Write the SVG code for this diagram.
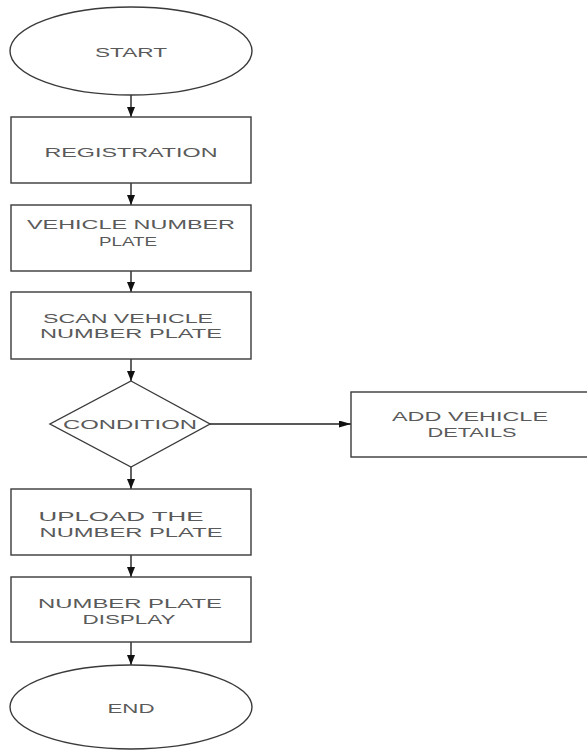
<svg xmlns="http://www.w3.org/2000/svg" width="587" height="751" viewBox="0 0 587 751">
<style>
.s{fill:#fff;stroke:#3a3a3a;stroke-width:1.4}
.t{font-family:"Liberation Sans",Arial,sans-serif;font-size:13px;fill:#5a5a5a;text-anchor:middle}
.c{stroke:#222;stroke-width:1.4;fill:none}
</style>
<defs>
<marker id="ah" viewBox="0 0 10 8" refX="10" refY="4" markerWidth="10" markerHeight="8" markerUnits="userSpaceOnUse" orient="auto">
<path d="M0,0 L10,4 L0,8 Z" fill="#111"/>
</marker>
<marker id="ah2" viewBox="0 0 12 7" refX="12" refY="3.5" markerWidth="12" markerHeight="7" markerUnits="userSpaceOnUse" orient="auto">
<path d="M0,0 L12,3.5 L0,7 Z" fill="#111"/>
</marker>
</defs>
<rect width="587" height="751" fill="#fff"/>
<g id="connectors">
<line class="c" x1="131" y1="95" x2="131" y2="117" marker-end="url(#ah)"/>
<line class="c" x1="131" y1="183" x2="131" y2="205" marker-end="url(#ah)"/>
<line class="c" x1="131" y1="271" x2="131" y2="292" marker-end="url(#ah)"/>
<line class="c" x1="131" y1="359" x2="131" y2="381" marker-end="url(#ah)"/>
<line class="c" x1="131" y1="467" x2="131" y2="489" marker-end="url(#ah)"/>
<line class="c" x1="131" y1="555" x2="131" y2="577" marker-end="url(#ah)"/>
<line class="c" x1="131" y1="642" x2="131" y2="665" marker-end="url(#ah)"/>
<line class="c" x1="210" y1="424" x2="351" y2="424" marker-end="url(#ah2)"/>
</g>
<g id="start">
<ellipse class="s" cx="131" cy="51" rx="121" ry="44"/>
<text class="t" x="131" y="57" textLength="72" lengthAdjust="spacingAndGlyphs">START</text>
</g>
<g id="registration">
<rect class="s" x="11" y="117" width="240" height="66"/>
<text class="t" x="131" y="157" textLength="173" lengthAdjust="spacingAndGlyphs">REGISTRATION</text>
</g>
<g id="vehicle">
<rect class="s" x="11" y="205" width="240" height="66"/>
<text class="t" x="131" y="229" textLength="208" lengthAdjust="spacingAndGlyphs">VEHICLE NUMBER</text>
<text class="t" x="128" y="246" textLength="58" lengthAdjust="spacingAndGlyphs">PLATE</text>
</g>
<g id="scan">
<rect class="s" x="11" y="292" width="240" height="67"/>
<text class="t" x="128" y="323" textLength="170" lengthAdjust="spacingAndGlyphs">SCAN VEHICLE</text>
<text class="t" x="131" y="338" textLength="182" lengthAdjust="spacingAndGlyphs">NUMBER PLATE</text>
</g>
<g id="condition">
<polygon class="s" points="131,381 210,424 131,467 50,424"/>
<text class="t" x="130" y="429" textLength="134" lengthAdjust="spacingAndGlyphs">CONDITION</text>
</g>
<g id="add">
<rect class="s" x="351" y="392" width="240" height="65"/>
<text class="t" x="470" y="421" textLength="156" lengthAdjust="spacingAndGlyphs">ADD VEHICLE</text>
<text class="t" x="472" y="437" textLength="89" lengthAdjust="spacingAndGlyphs">DETAILS</text>
</g>
<g id="upload">
<rect class="s" x="11" y="489" width="240" height="66"/>
<text class="t" x="121" y="521" textLength="165" lengthAdjust="spacingAndGlyphs">UPLOAD THE</text>
<text class="t" x="131" y="537" textLength="183" lengthAdjust="spacingAndGlyphs">NUMBER PLATE</text>
</g>
<g id="display">
<rect class="s" x="11" y="577" width="240" height="65"/>
<text class="t" x="130" y="608" textLength="184" lengthAdjust="spacingAndGlyphs">NUMBER PLATE</text>
<text class="t" x="129" y="624" textLength="93" lengthAdjust="spacingAndGlyphs">DISPLAY</text>
</g>
<g id="end">
<ellipse class="s" cx="131" cy="707" rx="121" ry="42"/>
<text class="t" x="131" y="713" textLength="47" lengthAdjust="spacingAndGlyphs">END</text>
</g>
</svg>
